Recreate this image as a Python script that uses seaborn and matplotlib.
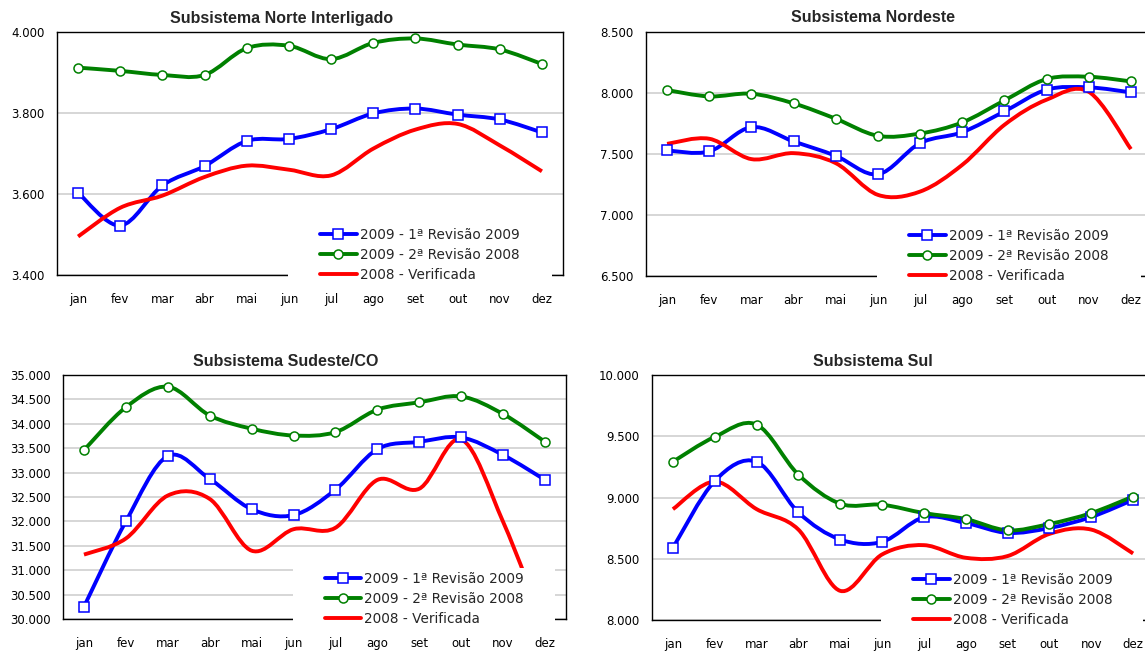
import numpy as np
import pandas as pd
import matplotlib
matplotlib.use('Agg')
import matplotlib.pyplot as plt
import seaborn as sns
from matplotlib.path import Path
from matplotlib.patches import PathPatch, Rectangle
from matplotlib.lines import Line2D
from matplotlib.ticker import FuncFormatter, MultipleLocator

# meses
meses = ['jan', 'fev', 'mar', 'abr', 'mai', 'jun', 'jul', 'ago', 'set', 'out', 'nov', 'dez']

# Subsistema Norte Interligado
norte_rev1_2009 = [3603, 3522, 3621, 3669, 3731, 3736, 3760, 3799, 3811, 3796, 3784, 3752]
norte_rev2_2008 = [3912, 3904, 3894, 3894, 3960, 3966, 3933, 3973, 3984, 3969, 3957, 3921]
norte_verif_2008 = [3495, 3566, 3596, 3642, 3670, 3660, 3646, 3712, 3759, 3773, 3720, 3656]

# Subsistema Nordeste
nordeste_rev1_2009 = [7529, 7521, 7720, 7603, 7485, 7334, 7589, 7679, 7849, 8027, 8046, 8005]
nordeste_rev2_2008 = [8024, 7972, 7994, 7915, 7789, 7649, 7668, 7759, 7939, 8114, 8133, 8095]
nordeste_verif_2008 = [7583, 7625, 7458, 7507, 7425, 7165, 7192, 7411, 7739, 7945, 8010, 7540]

# Subsistema Sudeste/CO
sudeste_rev1_2009 = [30250, 32000, 33340, 32870, 32250, 32130, 32650, 33480, 33630, 33720, 33360, 32850]
sudeste_rev2_2008 = [33460, 34340, 34760, 34170, 33900, 33760, 33830, 34290, 34440, 34560, 34200, 33630]
sudeste_verif_2008 = [31320, 31650, 32530, 32460, 31400, 31840, 31870, 32850, 32670, 33680, 31990, 29800]

# Subsistema Sul
sul_rev1_2009 = [8589, 9135, 9292, 8878, 8657, 8638, 8838, 8792, 8711, 8751, 8841, 8981]
sul_rev2_2008 = [9292, 9495, 9595, 9186, 8949, 8941, 8873, 8824, 8732, 8784, 8873, 9008]
sul_verif_2008 = [8905, 9130, 8905, 8738, 8238, 8535, 8611, 8508, 8522, 8703, 8738, 8543]

legendas = ['2009 - 1ª Revisão 2009', '2009 - 2ª Revisão 2008', '2008 - Verificada']
cores = ['#0000ff', '#008000', '#ff0000']
marcadores = ['s', 'o', None]

# titulo, series, limites, passo, [x, y, largura, altura] em px, centro do titulo
paineis = [
    ('Subsistema Norte Interligado', [norte_rev1_2009, norte_rev2_2008, norte_verif_2008],
     (3400, 4000), 200, [57, 32, 506, 243], 282),
    ('Subsistema Nordeste', [nordeste_rev1_2009, nordeste_rev2_2008, nordeste_verif_2008],
     (6500, 8500), 500, [646, 32, 506, 244], 873),
    ('Subsistema Sudeste/CO', [sudeste_rev1_2009, sudeste_rev2_2008, sudeste_verif_2008],
     (30000, 35000), 500, [63, 375, 503, 244], 286),
    ('Subsistema Sul', [sul_rev1_2009, sul_rev2_2008, sul_verif_2008],
     (8000, 10000), 500, [652, 375, 502, 245], 873),
]

sns.set_theme(style='white')
plt.rcParams['font.family'] = ['DejaVu Sans']

W, H = 1145, 651
fig = plt.figure(figsize=(W / 100, H / 100), dpi=100)


def curva_suave(y):
    # linha suavizada (Bezier, estilo Excel)
    x = np.arange(len(y), dtype=float)
    pts = np.column_stack([x, np.asarray(y, dtype=float)])
    n = len(pts)
    verts = [pts[0]]
    codes = [Path.MOVETO]
    for i in range(n - 1):
        p0 = pts[max(i - 1, 0)]
        p1 = pts[i]
        p2 = pts[i + 1]
        p3 = pts[min(i + 2, n - 1)]
        verts += [p1 + (p2 - p0) / 6, p2 - (p3 - p1) / 6, p2]
        codes += [Path.CURVE4] * 3
    return Path(verts, codes)


fmt = FuncFormatter(lambda v, p: f'{v:,.0f}'.replace(',', '.'))

for titulo, series, ylim, passo, (px, py, pw, ph), tx in paineis:
    ax = fig.add_axes([px / W, 1 - (py + ph) / H, pw / W, ph / H])
    x = np.arange(len(meses))
    for vals, cor in zip(series, cores):
        ax.add_patch(PathPatch(curva_suave(vals), facecolor='none', edgecolor=cor,
                               lw=2.8, zorder=2, capstyle='butt', joinstyle='round'))
    for vals, cor, mk in zip(series, cores, marcadores):
        if mk is None:
            continue
        df = pd.DataFrame({'mes': x, 'valor': vals})
        sns.lineplot(data=df, x='mes', y='valor', ax=ax, linestyle='', marker=mk,
                     markersize=7 if mk == 's' else 6.5, markerfacecolor='white',
                     markeredgecolor=cor, markeredgewidth=1.1, legend=False, zorder=4)

    ax.set_xlim(-0.5, len(meses) - 0.5)
    ax.set_ylim(*ylim)
    ax.yaxis.set_major_locator(MultipleLocator(passo))
    ax.yaxis.set_major_formatter(fmt)
    ax.set_xticks(x)
    ax.set_xticklabels(meses)
    ax.set_xlabel('')
    ax.set_ylabel('')
    ax.tick_params(axis='both', length=0, labelsize=8.5, colors='#000000')
    ax.tick_params(axis='x', pad=13)
    ax.tick_params(axis='y', pad=9)
    ax.grid(axis='y', color='#d0d0d0', lw=1.2)
    ax.set_axisbelow(True)
    for s in ax.spines.values():
        s.set_visible(True)
        s.set_color('#000000')
        s.set_linewidth(1.0)

    fig.text(tx / W, 1 - (py - 14) / H, titulo, ha='center', va='center',
             fontsize=11.5, fontweight='bold', family='Liberation Sans')

    # fundo branco da legenda (cobre linhas e eixo)
    ax.add_patch(Rectangle((0.457, -10 / ph), 0.978 - 0.457, 61 / ph, transform=ax.transAxes,
                           facecolor='white', edgecolor='none', zorder=5, clip_on=False))

    handles = [Line2D([], [], color=c, lw=2.8, marker=m, markersize=7 if m == 's' else 6.5,
                      markerfacecolor='white', markeredgecolor=c, markeredgewidth=1.1)
               for c, m in zip(cores, marcadores)]
    leg = ax.legend(handles, legendas, loc='center left', bbox_to_anchor=(0.52, 20 / ph),
                    frameon=False, fontsize=9.8, handlelength=2.7, handletextpad=0.22,
                    labelspacing=0.44, borderpad=0, borderaxespad=0)
    leg.set_zorder(10)

fig.savefig('out.png', dpi=100)
